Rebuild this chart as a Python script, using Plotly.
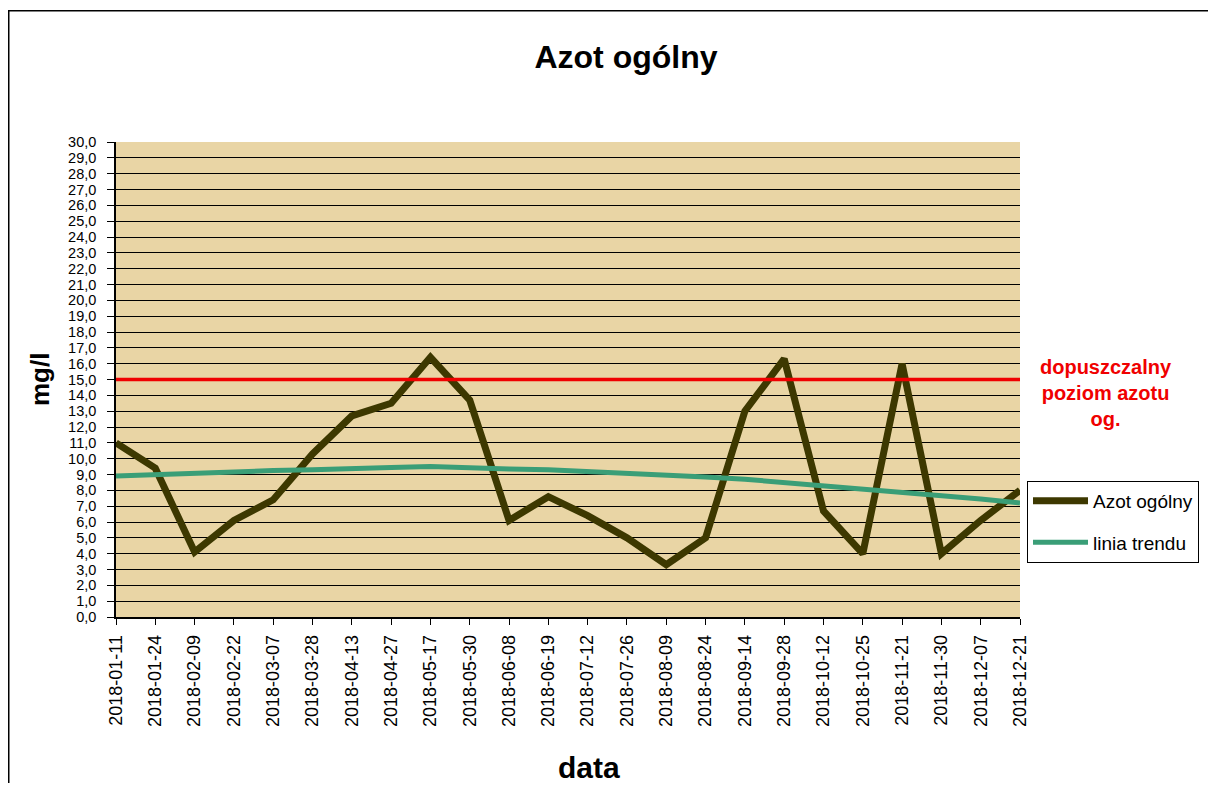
import plotly.graph_objects as go

# ---- data ----
dates = ["2018-01-11", "2018-01-24", "2018-02-09", "2018-02-22", "2018-03-07", "2018-03-28",
         "2018-04-13", "2018-04-27", "2018-05-17", "2018-05-30", "2018-06-08", "2018-06-19",
         "2018-07-12", "2018-07-26", "2018-08-09", "2018-08-24", "2018-09-14", "2018-09-28",
         "2018-10-12", "2018-10-25", "2018-11-21", "2018-11-30", "2018-12-07", "2018-12-21"]
azot = [11.0, 9.4, 4.1, 6.1, 7.4, 10.3, 12.7, 13.5, 16.4, 13.7, 6.1, 7.6,
        6.4, 5.0, 3.3, 5.0, 13.0, 16.3, 6.7, 4.0, 16.0, 4.0, 6.1, 8.0]
trend = [8.9, 9.0, 9.1, 9.2, 9.25, 9.3, 9.4, 9.45, 9.5, 9.4, 9.35, 9.3,
         9.2, 9.1, 8.95, 8.85, 8.7, 8.5, 8.3, 8.1, 7.9, 7.7, 7.45, 7.2]
limit_value = 15.0
y_ticks = list(range(0, 31))
grid_vals = list(range(1, 30))

# ---- geometry (screen pixels; page body has an 8px margin) ----
OFF = 8
W, H = 1216 - OFF, 791 - 2 * OFF
L, R, T, B = 116, 1020, 141.5, 617.5   # plot area on screen
def px(x):
    return (x - L) / (R - L)
def py(y):
    return (B - y) / (B - T)

FONT = "Liberation Sans, Arial, sans-serif"

fig = go.Figure()
fig.add_trace(go.Scatter(x=dates, y=azot, mode="lines", name="Azot ogólny",
                         line=dict(color="#3D3800", width=7), legendgroup="a"))
fig.add_trace(go.Scatter(x=dates, y=trend, mode="lines", name="linia trendu",
                         line=dict(color="#3A9E77", width=5), legendgroup="b"))
fig.add_trace(go.Scatter(x=[dates[0], dates[-1]], y=[limit_value, limit_value], mode="lines",
                         line=dict(color="#F00000", width=3.5), showlegend=False,
                         yaxis="y2", hoverinfo="skip"))

fig.update_layout(
    width=W, height=H,
    margin=dict(l=L - OFF, r=(W + OFF) - R, t=T - OFF, b=(H + OFF) - B, pad=0),
    paper_bgcolor="white",
    plot_bgcolor="#E9D5A5",
    separators=", ",
    font=dict(family=FONT, color="black"),
    title=dict(text="<b>Azot ogólny</b>", x=(626 - OFF) / W, xanchor="center",
               y=1 - (57 - OFF) / H, yanchor="middle", font=dict(size=32, family=FONT)),
    xaxis=dict(type="category", categoryorder="array", categoryarray=dates,
               range=[0, len(dates) - 1], showgrid=False, zeroline=False,
               showline=True, linecolor="black", linewidth=1.5,
               ticks="outside", ticklen=6, tickcolor="black", tickangle=-90,
               ticklabelstandoff=3,
               tickfont=dict(size=18, family=FONT)),
    yaxis=dict(range=[0, 30], tickvals=y_ticks, tickformat=".1f", showgrid=False,
               zeroline=False, showline=True, linecolor="black", linewidth=1.5,
               ticks="outside", ticklen=7, tickcolor="black", ticklabelstandoff=8,
               tickfont=dict(size=14.5, family=FONT)),
    yaxis2=dict(overlaying="y", range=[0, 30], tickvals=grid_vals, showgrid=True,
                gridcolor="black", gridwidth=1, showticklabels=False, ticks="",
                zeroline=False, showline=False, side="left"),
    legend=dict(x=px(1027), y=py(481), xanchor="left", yanchor="top",
                bgcolor="white", bordercolor="black", borderwidth=1,
                font=dict(size=19, family=FONT), itemwidth=55, tracegroupgap=14),
    showlegend=True,
)

fig.add_annotation(text="<b>dopuszczalny<br>poziom azotu<br>og.</b>", xref="paper", yref="paper",
                   x=px(1106), y=py(393), xanchor="center", yanchor="middle",
                   showarrow=False, align="center",
                   font=dict(color="#F00000", size=20, family=FONT))
fig.add_annotation(text="<b>mg/l</b>", xref="paper", yref="paper", x=px(40), y=py(380),
                   xanchor="center", yanchor="middle", textangle=-90, showarrow=False,
                   font=dict(size=26, family=FONT))
fig.add_annotation(text="<b>data</b>", xref="paper", yref="paper", x=px(589), y=py(768),
                   xanchor="center", yanchor="middle", showarrow=False,
                   font=dict(size=30, family=FONT))

fig.add_shape(type="rect", xref="paper", yref="paper", x0=px(OFF + 0.75), x1=px(1213),
              y0=py(820), y1=py(10), line=dict(color="black", width=1.5),
              fillcolor="rgba(0,0,0,0)", layer="below")

fig.write_html("out.html")
